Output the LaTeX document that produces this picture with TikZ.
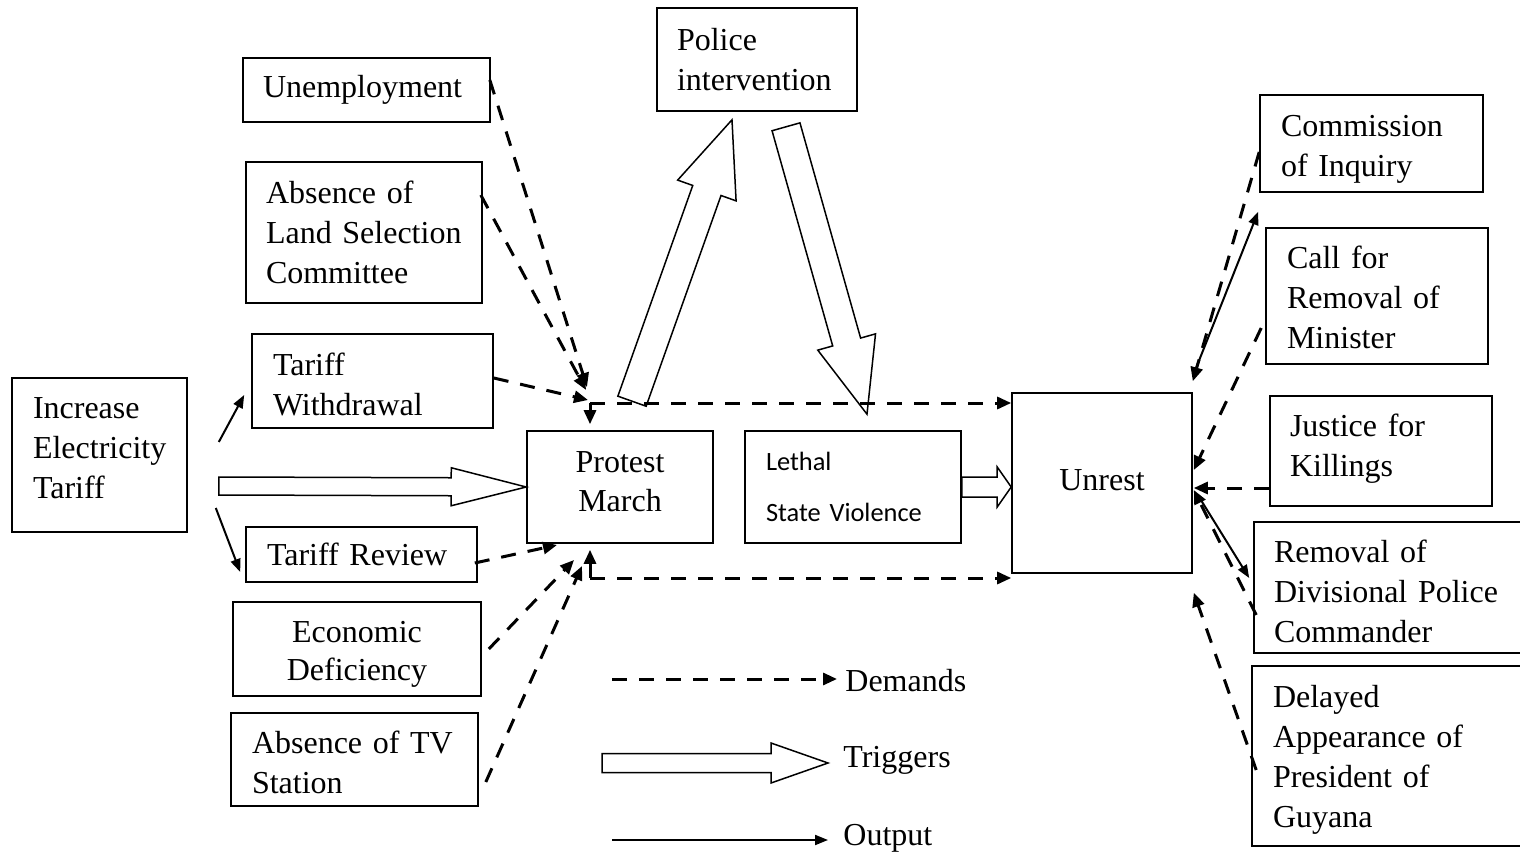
\documentclass[tikz,border=0pt]{standalone}
\usepackage{fontspec}
\setmainfont{Liberation Serif}
\newfontfamily\calib{Carlito}
\usetikzlibrary{arrows.meta,calc}
\hyphenpenalty=10000
\exhyphenpenalty=10000
\tikzset{
 box/.style={draw, line width=0.8pt, inner ysep=0pt, align=left, font=\fontsize{16}{20}\selectfont},
 dem/.style={line width=1.5pt, dash pattern=on 7.5pt off 6pt, -{Triangle[length=7pt,width=6pt]}},
 outp/.style={line width=1pt, -{Triangle[length=6.5pt,width=5pt]}},
 trig/.style={draw, line width=0.75pt, fill=white, line join=miter},
 lgtext/.style={anchor=west, inner sep=0pt, font=\fontsize{16}{20}\selectfont},
}
\newcommand\blockarr[5]{%
  \path (#1) coordinate (bas) (#2) coordinate (bae);%
  \pgfpointdiff{\pgfpointanchor{bas}{center}}{\pgfpointanchor{bae}{center}}%
  \pgfgetlastxy{\bax}{\bay}%
  \pgfmathsetmacro\balen{veclen(\bax,\bay)}%
  \pgfmathsetmacro\baang{atan2(\bay,\bax)}%
  \draw[trig, shift={(bas)}, rotate=\baang]
    (0pt,{-#3}) -- ({\balen pt-#5},{-#3}) -- ({\balen pt-#5},{-#4}) -- ({\balen pt},0pt)
    -- ({\balen pt-#5},{#4}) -- ({\balen pt-#5},{#3}) -- (0pt,{#3}) -- cycle;%
}
\newcommand\topr[1]{\rule{0pt}{#1}}
\begin{document}
\begin{tikzpicture}[x=0.5pt,y=-0.5pt]
\useasboundingbox (0,0) rectangle (1520,856);

% boxes
\node[box, minimum width=123.5pt, minimum height=32pt, inner xsep=10pt, text width=103.5pt] (unemp) at (366.5,90) {Unemployment};
\node[box, minimum width=118pt, minimum height=70.5pt, inner xsep=10pt, text width=98pt] (land) at (364,232.5) {Absence of\\Land Selection\\Committee};
\node[box, minimum width=120.5pt, minimum height=47pt, inner xsep=10.5pt, text width=99.5pt] (tw) at (372.5,381) {\topr{14.4pt}Tariff\\Withdrawal};
\node[box, minimum width=87.5pt, minimum height=77pt, inner xsep=10.5pt, text width=66.5pt] (inc) at (99.5,455) {Increase\\Electricity\\Tariff\\[-13pt]\mbox{}};
\node[box, minimum width=115.5pt, minimum height=27.5pt, inner xsep=10.5pt, text width=94.5pt] (tr) at (361.5,554.5) {Tariff Review};
\node[box, minimum width=124pt, minimum height=47pt, inner xsep=10pt, text width=104pt, align=center, font=\fontsize{16}{19}\selectfont] (econ) at (357,649) {\topr{15.6pt}Economic\\Deficiency};
\node[box, minimum width=123.5pt, minimum height=46.5pt, inner xsep=10.5pt, text width=102.5pt] (tv) at (354.5,759.5) {\topr{13.9pt}Absence of TV\\Station};
\node[box, minimum width=100pt, minimum height=51.5pt, inner xsep=10pt, text width=80pt] (police) at (757,59.5) {Police\\intervention};
\node[box, minimum width=93pt, minimum height=56pt, inner xsep=10pt, text width=73pt, align=center, font=\fontsize{16}{19.5}\selectfont] (pm) at (620,487) {Protest\\March\\[-14.5pt]\mbox{}};
\node[box, minimum width=108pt, minimum height=56pt, inner xsep=10.5pt, text width=87pt, font=\calib\fontsize{13.2}{25.5}\selectfont] (lethal) at (853,487) {Lethal\\State Violence};
\node[box, minimum width=90pt, minimum height=90pt, inner xsep=10pt, text width=70pt, align=center] (unrest) at (1102,483) {Unrest\\[-17pt]\mbox{}};
\node[box, minimum width=111.5pt, minimum height=48.5pt, inner xsep=10.5pt, text width=90.5pt] (com) at (1371.5,143.5) {\topr{16.8pt}Commission\\of Inquiry};
\node[box, minimum width=111pt, minimum height=68pt, inner xsep=10.5pt, text width=90pt] (call) at (1377,296) {\topr{12.9pt}Call for\\Removal of\\Minister};
\node[box, minimum width=111pt, minimum height=55pt, inner xsep=10pt, text width=91pt] (just) at (1381,451) {Justice for\\Killings\\[-14.6pt]\mbox{}};
\node[box, minimum width=138pt, minimum height=65.5pt, inner xsep=10pt, text width=118pt] (rem) at (1392,587.5) {\topr{14.9pt}Removal of\\Divisional Police\\Commander};
\node[box, minimum width=139pt, minimum height=90pt, inner xsep=10.5pt, text width=118pt] (del) at (1391,756) {\topr{14.9pt}Delayed\\Appearance of\\President of\\Guyana};

% junctions
\coordinate (j1) at (590,403);
\coordinate (j2) at (590,578);

% trigger block arrows
\blockarr{[xshift=15.5pt,yshift=-15.5pt]inc.east}{pm.west}{4.5pt}{9.5pt}{37.5pt}
\blockarr{[xshift=6pt,yshift=14.5pt]pm.north}{[xshift=-12.5pt,yshift=-4pt]police.south}{7.5pt}{15.5pt}{37.5pt}
\blockarr{[xshift=14.5pt,yshift=-7.5pt]police.south}{[xshift=7pt,yshift=8pt]lethal.north}{7.25pt}{15pt}{37.5pt}
\blockarr{lethal.east}{lethal.east -| unrest.west}{5pt}{10pt}{7pt}

% demands, left
\draw[dem] ([xshift=-0.5pt,yshift=5pt]unemp.east) -- ([xshift=-1.5pt,yshift=8pt]j1);
\draw[dem] ([xshift=-1pt,yshift=18.75pt]land.east) -- ([xshift=-2pt,yshift=6.5pt]j1);
\draw[dem] ([yshift=1.5pt]tw.east) -- ([xshift=-1pt,yshift=1.5pt]j1);
\draw[dem] (j1) -- ([xshift=-15pt,yshift=3pt]pm.north);
\draw[dem] (j1) -- (j1 -| unrest.west);
\draw[dem] ([xshift=-1.5pt,yshift=-4.25pt]tr.east) -- ([xshift=-16.5pt,yshift=16.5pt]j2);
\draw[dem] ([xshift=3.5pt]econ.east) -- ([xshift=-8pt,yshift=9pt]j2);
\draw[dem] ([xshift=3.5pt,yshift=-11.25pt]tv.east) -- ([xshift=-4pt,yshift=6pt]j2);
\draw[dem] (j2) -- ([xshift=-15pt,yshift=-3pt]pm.south);
\draw[dem] (j2) -- (j2 -| unrest.west);

% outputs, left
\draw[outp] ([xshift=15.5pt,yshift=6.5pt]inc.east) -- ([xshift=-3.5pt,yshift=-7pt]tw.west);
\draw[outp] ([xshift=14pt,yshift=-26.5pt]inc.east) -- ([xshift=-2.5pt,yshift=-8.75pt]tr.west);

% right side
\draw[dem] ([yshift=-4.25pt]com.west) -- ([yshift=5.5pt]unrest.north east);
\draw[outp] ([xshift=1pt,yshift=10.5pt]unrest.north east) -- ([xshift=-0.5pt,yshift=-9.5pt]com.south west);
\draw[dem] ([xshift=-2pt,yshift=-16pt]call.west) -- ([xshift=0.5pt,yshift=6.5pt]unrest.east);
\draw[dem] ([yshift=-18.5pt]just.west) -- ([xshift=0.5pt,yshift=-2.5pt]unrest.east);
\draw[outp] ([xshift=2.5pt,yshift=-6pt]unrest.east) -- ([xshift=-2pt,yshift=4.75pt]rem.west);
\draw[dem] ([xshift=1.5pt,yshift=-13.75pt]rem.west) -- ([xshift=0.5pt,yshift=-3.5pt]unrest.east);
\draw[dem] ([xshift=2.5pt,yshift=-7pt]del.west) -- ([xshift=0.5pt,yshift=-9.5pt]unrest.south east);

% legend
\node[lgtext] (lgdem) at (845,681) {Demands};
\node[lgtext] (lgtrig) at (843,760) {Triggers};
\node[lgtext] (lgout) at (843,838) {Output};
\coordinate (ld) at (612,679);
\coordinate (lt) at (602,763);
\coordinate (lo) at (612,840);
\draw[dem] (ld) -- ([xshift=-4pt]lgdem.west |- ld);
\blockarr{lt}{[xshift=-7.5pt]lgtrig.west |- lt}{4.75pt}{10pt}{28.5pt}
\draw[outp] (lo) -- ([xshift=-7.5pt]lgout.west |- lo);
\end{tikzpicture}
\end{document}
